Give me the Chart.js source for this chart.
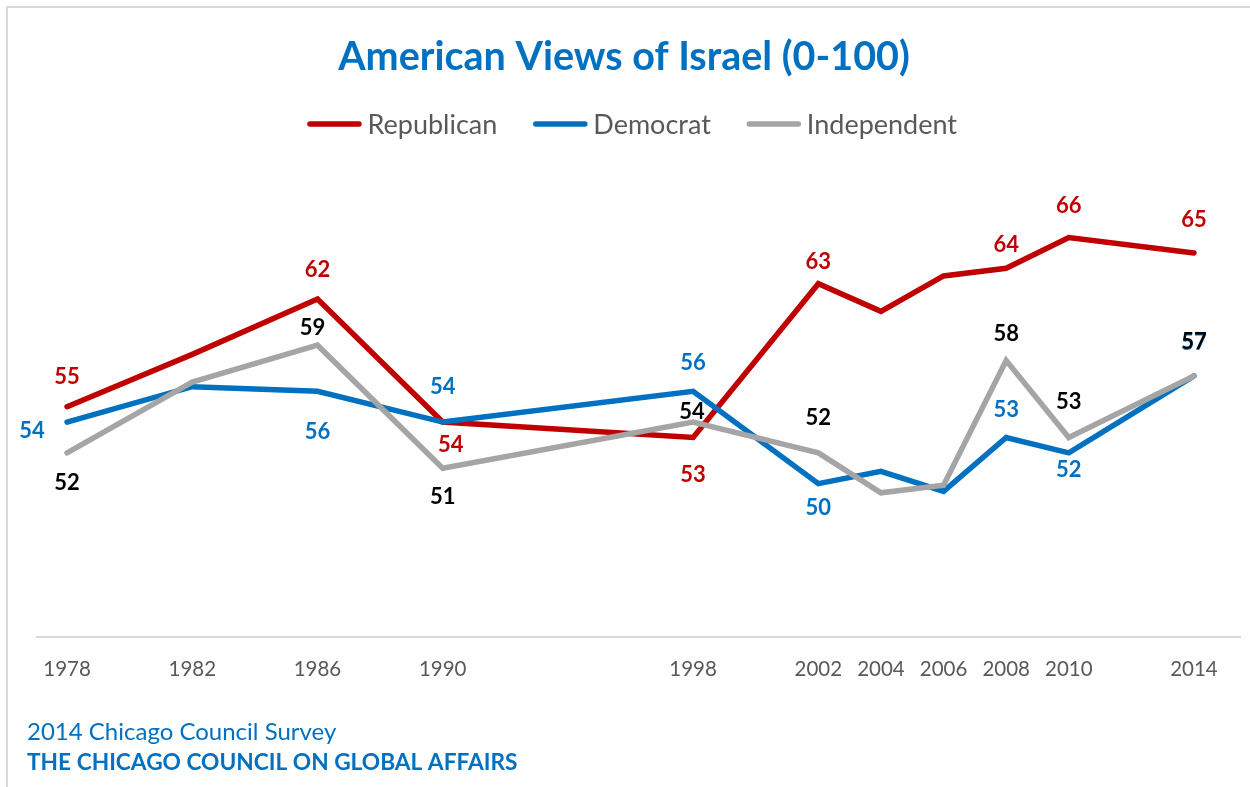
<!DOCTYPE html>
<html>
<head>
<meta charset="utf-8">
<title>American Views of Israel (0-100)</title>
<script src="https://cdn.jsdelivr.net/npm/chart.js@4.4.1/dist/chart.umd.min.js"></script>
<style>
  html, body { margin: 0; padding: 0; background: #ffffff; }
  #wrap { width: 1250px; height: 787px; }
</style>
</head>
<body>
<div id="wrap"><canvas id="chart" width="1250" height="787"></canvas></div>
<script>
// Survey years (x axis)
const years = [1978, 1982, 1986, 1990, 1998, 2002, 2004, 2006, 2008, 2010, 2014];

// Feeling thermometer toward Israel (0-100) by party identification
const republican  = [55, 58.4, 62, 54, 53, 63, 61.2, 63.5, 64, 66, 65];
const democrat    = [54, 56.3, 56, 54, 56, 50, 50.8, 49.5, 53, 52, 57];
const independent = [52, 56.6, 59, 51, 54, 52, 49.4, 49.9, 58, 53, 57];

const seriesNames = ['Republican', 'Democrat', 'Independent'];

// Value label placement, as [dx, dy] pixel shifts from each point (null = no label)
const repLabelShift = [[0,-31], null, [0,-30], [8,22], [0,37], [0,-23], null, null, [0,-24], [0,-32], [0,-34]];
const demLabelShift = [[-35,8], null, [0,40], [0,-36], [0,-29], [0,23], null, null, [0,-28], [0,16], [0,-34]];
const indLabelShift = [[0,29], null, [-5,-18], [0,28], [-1,-11], [0,-36], null, null, [0,-27], [0,-36], [0,-35]];

const lineColors  = ['#C00000', '#0070C0', '#A5A5A5'];
const labelColors = ['#C00000', '#0070C0', '#000000'];
const FONT = 'Lato, "Open Sans", sans-serif';
const LINE_W = 5.5;

const values = [republican, democrat, independent];
const shifts = [repLabelShift, demLabelShift, indLabelShift];

function toPoints(arr) {
  return arr.map((v, i) => ({ x: years[i], y: v }));
}

// Light frame along the top and left edges
const framePlugin = {
  id: 'frame',
  beforeDraw(chart) {
    const ctx = chart.ctx;
    ctx.save();
    ctx.fillStyle = '#ffffff';
    ctx.fillRect(0, 0, chart.width, chart.height);
    ctx.strokeStyle = '#D9D9D9';
    ctx.lineWidth = 2;
    ctx.beginPath();
    ctx.moveTo(7, chart.height);
    ctx.lineTo(7, 7);
    ctx.lineTo(chart.width, 7);
    ctx.stroke();
    ctx.restore();
  }
};

// Series key under the title: short line sample followed by the series name
const seriesKey = {
  id: 'seriesKey',
  afterDraw(chart) {
    const ctx = chart.ctx;
    const size = 27;
    const sample = 49;      // stroke length of the line sample
    const textGap = 8.5;    // sample end to text
    const itemGap = 38.5;   // text end to next sample
    const centerX = 633.5;
    const centerY = 124;
    ctx.save();
    ctx.font = size + 'px ' + FONT;
    const widths = seriesNames.map(n => ctx.measureText(n).width);
    const total = widths.reduce((a, w) => a + sample + textGap + w, 0) + itemGap * (seriesNames.length - 1);
    let x = centerX - total / 2;
    seriesNames.forEach((name, i) => {
      ctx.strokeStyle = lineColors[i];
      ctx.lineWidth = LINE_W;
      ctx.lineCap = 'round';
      ctx.beginPath();
      ctx.moveTo(x, centerY);
      ctx.lineTo(x + sample, centerY);
      ctx.stroke();
      x += sample + textGap;
      ctx.fillStyle = '#595959';
      ctx.textAlign = 'left';
      ctx.textBaseline = 'alphabetic';
      ctx.fillText(name, x, centerY + size * 0.36);
      x += widths[i] + itemGap;
    });
    ctx.restore();
  }
};

// Value labels next to the points
const valueLabels = {
  id: 'valueLabels',
  afterDatasetsDraw(chart) {
    const ctx = chart.ctx;
    const size = 22;
    ctx.save();
    ctx.font = 'bold ' + size + 'px ' + FONT;
    ctx.textAlign = 'center';
    ctx.textBaseline = 'alphabetic';
    values.forEach((vals, di) => {
      const meta = chart.getDatasetMeta(di);
      meta.data.forEach((pt, i) => {
        const s = shifts[di][i];
        if (!s) return;
        ctx.fillStyle = labelColors[di];
        ctx.fillText(String(vals[i]), pt.x + s[0], pt.y + s[1] + size * 0.36);
      });
    });
    ctx.restore();
  }
};

// Source lines at the bottom left
const sourceNote = {
  id: 'sourceNote',
  afterDraw(chart) {
    const ctx = chart.ctx;
    ctx.save();
    ctx.fillStyle = '#0070C0';
    ctx.textAlign = 'left';
    ctx.textBaseline = 'alphabetic';
    ctx.font = '24px ' + FONT;
    ctx.fillText('2014 Chicago Council Survey', 27, chart.height - 56 + 24 * 0.36);
    ctx.font = 'bold 22.7px ' + FONT;
    ctx.fillText('THE CHICAGO COUNCIL ON GLOBAL AFFAIRS', 27, chart.height - 25 + 22.7 * 0.36);
    ctx.restore();
  }
};

new Chart(document.getElementById('chart'), {
  type: 'line',
  data: {
    datasets: values.map((vals, di) => ({
      label: seriesNames[di],
      data: toPoints(vals),
      borderColor: lineColors[di],
      backgroundColor: lineColors[di],
      borderWidth: LINE_W,
      borderCapStyle: 'round',
      borderJoinStyle: 'miter',
      pointRadius: 0,
      tension: 0,
      fill: false,
      order: 3 - di
    }))
  },
  options: {
    responsive: false,
    animation: false,
    events: [],
    layout: { padding: { left: 8, right: 10, top: 0, bottom: 85 } },
    plugins: {
      tooltip: { enabled: false },
      legend: { display: false },
      title: {
        display: true,
        text: 'American Views of Israel (0-100)',
        color: '#0070C0',
        font: { family: FONT, size: 39.5, weight: 'bold', lineHeight: 1.2 },
        padding: { top: 33.3, bottom: 95.3 }
      }
    },
    scales: {
      x: {
        type: 'linear',
        min: 1977.04,
        max: 2015.47,
        afterBuildTicks: (s) => { s.ticks = years.map(v => ({ value: v })); },
        grid: { display: false, drawTicks: false },
        border: { display: true, color: '#D9D9D9', width: 2 },
        ticks: {
          autoSkip: false,
          maxRotation: 0,
          padding: 20,
          color: '#595959',
          font: { family: FONT, size: 20.5 },
          callback: (v) => String(v)
        }
      },
      y: {
        type: 'linear',
        min: 40,
        max: 70,
        afterFit: (s) => { s.width = 29; },
        grid: { display: false, drawTicks: false },
        border: { display: false },
        ticks: { display: false }
      }
    }
  },
  plugins: [framePlugin, valueLabels, seriesKey, sourceNote]
});
</script>
</body>
</html>
